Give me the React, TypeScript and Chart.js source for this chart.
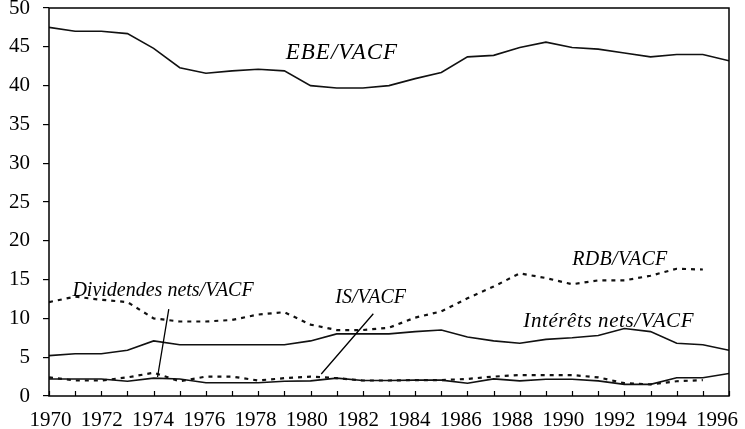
import React, { useEffect, useRef } from "react";
import { Chart, registerables } from "chart.js";

Chart.register(...registerables);

// ---- data ----
const years = [1970, 1971, 1972, 1973, 1974, 1975, 1976, 1977, 1978, 1979, 1980, 1981, 1982, 1983, 1984, 1985, 1986, 1987, 1988, 1989, 1990, 1991, 1992, 1993, 1994, 1995, 1996];
const ebeVacf = [47.5, 47.0, 47.0, 46.7, 44.8, 42.3, 41.6, 41.9, 42.1, 41.9, 40.0, 39.7, 39.7, 40.0, 40.9, 41.7, 43.7, 43.9, 44.9, 45.6, 44.9, 44.7, 44.2, 43.7, 44.0, 44.0, 43.2];
const rdbVacf = [12.1, 12.8, 12.4, 12.1, 10.0, 9.6, 9.6, 9.8, 10.5, 10.8, 9.2, 8.5, 8.5, 8.8, 10.1, 10.9, 12.6, 14.1, 15.8, 15.2, 14.4, 14.9, 14.9, 15.5, 16.4, 16.3, null];
const interetsVacf = [5.2, 5.45, 5.45, 5.9, 7.1, 6.6, 6.6, 6.6, 6.6, 6.6, 7.1, 8.0, 8.0, 8.0, 8.3, 8.5, 7.6, 7.1, 6.8, 7.3, 7.5, 7.8, 8.7, 8.3, 6.8, 6.6, 5.9];
const isVacf = [2.4, 2.0, 2.0, 2.4, 3.0, 1.9, 2.5, 2.5, 2.0, 2.3, 2.5, 2.3, 2.0, 2.0, 2.05, 2.05, 2.2, 2.5, 2.7, 2.7, 2.7, 2.4, 1.65, 1.5, 1.9, 2.05, null];
const dividendesVacf = [2.2, 2.2, 2.2, 1.9, 2.3, 2.2, 1.7, 1.7, 1.7, 1.9, 1.95, 2.3, 2.0, 2.0, 2.05, 2.05, 1.65, 2.2, 1.95, 2.15, 2.15, 1.95, 1.5, 1.5, 2.35, 2.35, 2.9];

const xTickLabels = [1970, 1972, 1974, 1976, 1978, 1980, 1982, 1984, 1986, 1988, 1990, 1992, 1994, 1996];
const yMin = 0;
const yMax = 50;
const yStep = 5;

// ---- annotations (in data coordinates) ----
const labelTexts = ["EBE/VACF", "RDB/VACF", "Intérêts nets/VACF", "Dividendes nets/VACF", "IS/VACF"];
const labelYears = [1981.2, 1991.83, 1991.4, 1974.36, 1982.3];
const labelValues = [44.2, 17.5, 9.6, 13.5, 12.6];
const labelSizes = [23, 20, 21, 20, 20];
const labelSpacing = [1, 0.3, 0.6, 0, 0];
const leaderStartYears = [1974.58, 1982.4];
const leaderStartValues = [11.2, 10.6];
const leaderEndYears = [1974.15, 1980.41];
const leaderEndValues = [2.45, 2.84];

const FONT = "'Liberation Serif', 'Times New Roman', serif";

const toPoints = (vals: (number | null)[]) => years.map((y, i) => ({ x: y, y: vals[i] }));

const framePlugin = {
  id: "frame",
  afterDatasetsDraw(chart: any) {
    const { ctx, chartArea, scales } = chart;
    const xs = scales.x;
    const ys = scales.y;
    ctx.save();
    ctx.strokeStyle = "#000";
    ctx.lineWidth = 1.5;
    ctx.strokeRect(chartArea.left, chartArea.top, chartArea.right - chartArea.left, chartArea.bottom - chartArea.top);
    // inward x ticks
    ctx.lineWidth = 1.2;
    ctx.beginPath();
    years.forEach((yr) => {
      const px = Math.round(xs.getPixelForValue(yr)) + 0.5;
      ctx.moveTo(px, chartArea.bottom);
      ctx.lineTo(px, chartArea.bottom - 5);
    });
    ctx.stroke();
    // leader lines
    ctx.lineWidth = 1.3;
    ctx.beginPath();
    leaderStartYears.forEach((yr, i) => {
      ctx.moveTo(xs.getPixelForValue(yr), ys.getPixelForValue(leaderStartValues[i]));
      ctx.lineTo(xs.getPixelForValue(leaderEndYears[i]), ys.getPixelForValue(leaderEndValues[i]));
    });
    ctx.stroke();
    // labels
    ctx.fillStyle = "#000";
    ctx.textAlign = "center";
    ctx.textBaseline = "middle";
    labelTexts.forEach((t, i) => {
      ctx.font = `italic ${labelSizes[i]}px ${FONT}`;
      (ctx as any).letterSpacing = `${labelSpacing[i]}px`;
      ctx.fillText(t, xs.getPixelForValue(labelYears[i]), ys.getPixelForValue(labelValues[i]));
    });
    (ctx as any).letterSpacing = "0px";
    ctx.restore();
  },
};

export default function App() {
  const ref = useRef<HTMLCanvasElement | null>(null);
  useEffect(() => {
    document.body.style.margin = "0";
    if (!ref.current) return;
    const dotted = { borderDash: [4, 5], borderWidth: 2.2 };
    const solid = { borderWidth: 1.6 };
    const chart = new Chart(ref.current, {
      type: "line",
      data: {
        datasets: [
          { label: "EBE/VACF", data: toPoints(ebeVacf), borderColor: "#111", xAxisID: "x", ...solid },
          { label: "RDB/VACF", data: toPoints(rdbVacf), borderColor: "#111", xAxisID: "x", ...dotted },
          { label: "Intérêts nets/VACF", data: toPoints(interetsVacf), borderColor: "#111", xAxisID: "x", ...solid },
          { label: "IS/VACF", data: toPoints(isVacf), borderColor: "#111", xAxisID: "x", ...dotted },
          { label: "Dividendes nets/VACF", data: toPoints(dividendesVacf), borderColor: "#111", xAxisID: "x", ...solid },
        ] as any,
      },
      options: {
        animation: false,
        responsive: false,
        devicePixelRatio: 1,
        layout: { padding: { top: 8, right: 16, left: 0, bottom: 0 } },
        elements: { point: { radius: 0 }, line: { tension: 0 } },
        plugins: { legend: { display: false }, tooltip: { enabled: false } },
        scales: {
          x: {
            type: "linear",
            display: false,
            min: years[0],
            max: years[years.length - 1],
          },
          xl: {
            type: "linear",
            axis: "x",
            position: "bottom",
            min: 1969.94,
            max: 1996.47,
            grid: { display: false, drawTicks: false },
            border: { display: false },
            afterBuildTicks: (s: any) => {
              s.ticks = xTickLabels.map((v) => ({ value: v }));
            },
            ticks: {
              autoSkip: false,
              maxRotation: 0,
              padding: 12,
              color: "#000",
              font: { family: FONT, size: 21 },
              callback: (v: any) => String(v),
            },
            afterFit: (s: any) => {
              s.height = 33;
              s.paddingLeft = 0;
              s.paddingRight = 0;
            },
          } as any,
          y: {
            min: yMin,
            max: yMax,
            grid: { drawOnChartArea: false, drawTicks: true, tickLength: 6, color: "#000", lineWidth: 1.2 },
            border: { display: false },
            ticks: {
              stepSize: yStep,
              padding: 13,
              color: "#000",
              font: { family: FONT, size: 21 },
            },
            afterFit: (s: any) => {
              s.width = 49;
              s.paddingTop = 0;
              s.paddingBottom = 0;
            },
          },
        },
      },
      plugins: [framePlugin],
    });
    return () => chart.destroy();
  }, []);
  return (
    <div style={{ width: 745, height: 429, background: "#fff" }}>
      <canvas ref={ref} width={745} height={429} />
    </div>
  );
}
